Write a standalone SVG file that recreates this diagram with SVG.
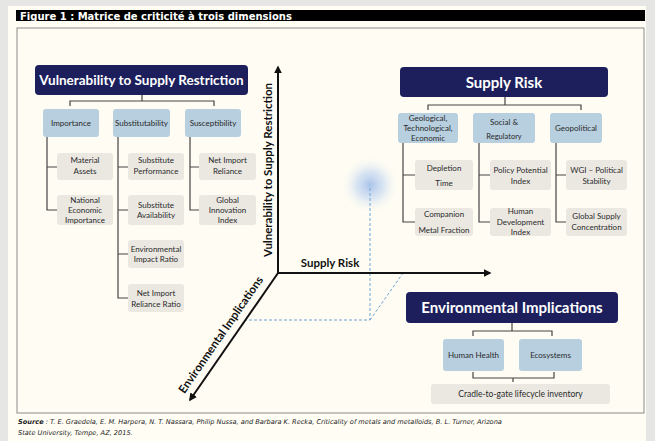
<svg xmlns="http://www.w3.org/2000/svg" width="655" height="441" viewBox="0 0 655 441">
<style>
.t{font-family:Lato,"Open Sans","Liberation Sans",sans-serif;fill:#2a2a2a;text-anchor:middle}
.s{font-size:8px}
.h{font-family:Lato,"Open Sans","Liberation Sans",sans-serif;fill:#fff;font-weight:bold;text-anchor:middle}
.ax{font-family:Lato,"Open Sans","Liberation Sans",sans-serif;fill:#111;font-weight:bold;font-size:11.5px;text-anchor:middle}
.navy{fill:#1c1f5c}
.cat{fill:#b7cfdf}
.sub{fill:#ebe8e2}
.ln{stroke:#444;stroke-width:1.2;fill:none}
.axis{stroke:#111;stroke-width:2;fill:none}
.dash{stroke:#6fa3d6;stroke-width:1;stroke-dasharray:3,2;fill:none}
.src{font-family:"DejaVu Sans",Verdana,sans-serif;font-style:italic;font-size:6.6px;fill:#222}
</style>
<defs>
<marker id="arr" viewBox="0 0 10 10" refX="8" refY="5" markerWidth="4" markerHeight="4" orient="auto"><path d="M0,0 L10,5 L0,10 z" fill="#111"/></marker>
<radialGradient id="glow"><stop offset="0" stop-color="#a9c3ea"/><stop offset="0.45" stop-color="#c9daf2" stop-opacity="0.7"/><stop offset="1" stop-color="#fffdf3" stop-opacity="0"/></radialGradient>
</defs>
<rect x="0" y="0" width="655" height="441" fill="#e6e6e4"/>
<rect x="8" y="6" width="638" height="435" fill="#fffdf4"/>
<rect x="16" y="10" width="629" height="11" fill="#000"/>
<text x="20" y="19.5" font-family="'DejaVu Sans',Verdana,sans-serif" font-weight="bold" font-size="10" fill="#fff">Figure 1 : Matrice de criticité à trois dimensions</text>
<rect x="17" y="28" width="627" height="385" fill="#fffdf3" stroke="#8a8a8a" stroke-width="1"/>
<text class="src" x="18" y="424"><tspan font-weight="bold">Source</tspan> : T. E. Graedela, E. M. Harpera, N. T. Nassara, Philip Nussa, and Barbara K. Recka, Criticality of metals and metalloids, B. L. Turner, Arizona</text>
<text class="src" x="18" y="435">State University, Tempe, AZ, 2015.</text>

<g id="connectors">
<path class="ln" d="M142,95 V101 M70,106 V101 H214 V106"/>
<path class="ln" d="M47,137 V210 H57 M47,167 H57"/>
<path class="ln" d="M118,137 V298 H128 M118,167 H128 M118,210 H128 M118,254 H128"/>
<path class="ln" d="M190,137 V210 H199 M190,167 H199"/>
<path class="ln" d="M505,97 V105 M428,110 V105 H581 V110"/>
<path class="ln" d="M403,143 V222 H415 M403,175 H415"/>
<path class="ln" d="M479,143 V222 H490 M479,175 H490"/>
<path class="ln" d="M556,143 V222 H566 M556,175 H566"/>
<path class="ln" d="M512,323 V331 M473,336 V331 H552 V336"/>
<path class="ln" d="M473,372 V378 H554 V372 M513,378 V382"/>
</g>

<g id="axes">
<circle cx="370" cy="185" r="30" fill="url(#glow)"/>
<path class="dash" d="M370,188 V320 H246 M370,320 L403,273"/>
<path class="axis" d="M278,273 V67" marker-end="url(#arr)"/>
<path class="axis" d="M278,273 H490" marker-end="url(#arr)"/>
<path class="axis" d="M278,273 L190,400" marker-end="url(#arr)"/>
<text class="ax" transform="translate(272,170) rotate(-90)">Vulnerability to Supply Restriction</text>
<text class="ax" x="330" y="267">Supply Risk</text>
<text class="ax" transform="translate(224,337) rotate(-55.3)">Environmental Implications</text>
</g>

<g id="vsr">
<rect class="navy" x="35" y="65" width="213" height="30" rx="4"/>
<text class="h" x="141.5" y="85" font-size="13.5">Vulnerability to Supply Restriction</text>
</g>
<g id="importance"><rect class="cat" x="43" y="109" width="56" height="28" rx="3"/><text class="t s" x="71" y="126">Importance</text></g>
<g id="substitutability"><rect class="cat" x="113" y="109" width="57" height="28" rx="3"/><text class="t s" x="141.5" y="126">Substitutability</text></g>
<g id="susceptibility"><rect class="cat" x="185" y="109" width="56" height="28" rx="3"/><text class="t s" x="213" y="126">Susceptibility</text></g>
<g id="material"><rect class="sub" x="57" y="153" width="56" height="27" rx="3"/><text class="t s" x="85" y="163">Material</text><text class="t s" x="85" y="174">Assets</text></g>
<g id="national"><rect class="sub" x="57" y="195" width="56" height="30" rx="3"/><text class="t s" x="85" y="203">National</text><text class="t s" x="85" y="213">Economic</text><text class="t s" x="85" y="223">Importance</text></g>
<g id="subperf"><rect class="sub" x="128" y="153" width="56" height="27" rx="3"/><text class="t s" x="156" y="163">Substitute</text><text class="t s" x="156" y="174">Performance</text></g>
<g id="subavail"><rect class="sub" x="128" y="195" width="56" height="30" rx="3"/><text class="t s" x="156" y="208">Substitute</text><text class="t s" x="156" y="218">Availability</text></g>
<g id="envratio"><rect class="sub" x="128" y="240" width="56" height="28" rx="3"/><text class="t s" x="156" y="252">Environmental</text><text class="t s" x="156" y="262">Impact Ratio</text></g>
<g id="netratio"><rect class="sub" x="128" y="284" width="56" height="28" rx="3"/><text class="t s" x="156" y="296">Net Import</text><text class="t s" x="156" y="307">Reliance Ratio</text></g>
<g id="netimport"><rect class="sub" x="199" y="153" width="57" height="27" rx="3"/><text class="t s" x="227.5" y="163">Net Import</text><text class="t s" x="227.5" y="174">Reliance</text></g>
<g id="innovation"><rect class="sub" x="199" y="195" width="57" height="30" rx="3"/><text class="t s" x="227.5" y="203">Global</text><text class="t s" x="227.5" y="213">Innovation</text><text class="t s" x="227.5" y="223">Index</text></g>

<g id="supplyrisk">
<rect class="navy" x="400" y="67" width="208" height="30" rx="4"/>
<text class="h" x="504" y="88" font-size="15">Supply Risk</text>
</g>
<g id="geological"><rect class="cat" x="398" y="113" width="60" height="30" rx="3"/><text class="t s" x="428" y="121">Geological,</text><text class="t s" x="428" y="131">Technological,</text><text class="t s" x="428" y="141">Economic</text></g>
<g id="social"><rect class="cat" x="473" y="113" width="62" height="30" rx="3"/><text class="t s" x="504" y="125">Social &amp;</text><text class="t" x="504" y="139" font-size="7.5">Regulatory</text></g>
<g id="geopolitical"><rect class="cat" x="550" y="113" width="52" height="30" rx="3"/><text class="t s" x="576" y="131">Geopolitical</text></g>
<g id="depletion"><rect class="sub" x="415" y="160" width="58" height="30" rx="3"/><text class="t s" x="444" y="171">Depletion</text><text class="t s" x="444" y="186">Time</text></g>
<g id="companion"><rect class="sub" x="415" y="208" width="58" height="28" rx="3"/><text class="t s" x="444" y="217">Companion</text><text class="t s" x="444" y="233">Metal Fraction</text></g>
<g id="policy"><rect class="sub" x="490" y="160" width="61" height="30" rx="3"/><text class="t s" x="520.5" y="173">Policy Potential</text><text class="t s" x="520.5" y="184">Index</text></g>
<g id="human"><rect class="sub" x="490" y="208" width="61" height="28" rx="3"/><text class="t s" x="520.5" y="214">Human</text><text class="t s" x="520.5" y="225">Development</text><text class="t s" x="520.5" y="235">Index</text></g>
<g id="wgi"><rect class="sub" x="566" y="160" width="61" height="30" rx="3"/><text class="t s" x="596.5" y="173">WGI – Political</text><text class="t s" x="596.5" y="184">Stability</text></g>
<g id="concentration"><rect class="sub" x="566" y="208" width="61" height="28" rx="3"/><text class="t s" x="596.5" y="219">Global Supply</text><text class="t s" x="596.5" y="230">Concentration</text></g>

<g id="envimp">
<rect class="navy" x="406" y="292" width="212" height="31" rx="4"/>
<text class="h" x="512" y="313" font-size="15">Environmental Implications</text>
</g>
<g id="health"><rect class="cat" x="443" y="339" width="61" height="32" rx="3"/><text class="t s" x="473.5" y="358">Human Health</text></g>
<g id="eco"><rect class="cat" x="519" y="339" width="63" height="32" rx="3"/><text class="t s" x="550.5" y="358">Ecosystems</text></g>
<g id="cradle"><rect class="sub" x="431" y="384" width="179" height="20" rx="3"/><text class="t" x="520.5" y="397" font-size="8.5">Cradle-to-gate lifecycle inventory</text></g>
</svg>
